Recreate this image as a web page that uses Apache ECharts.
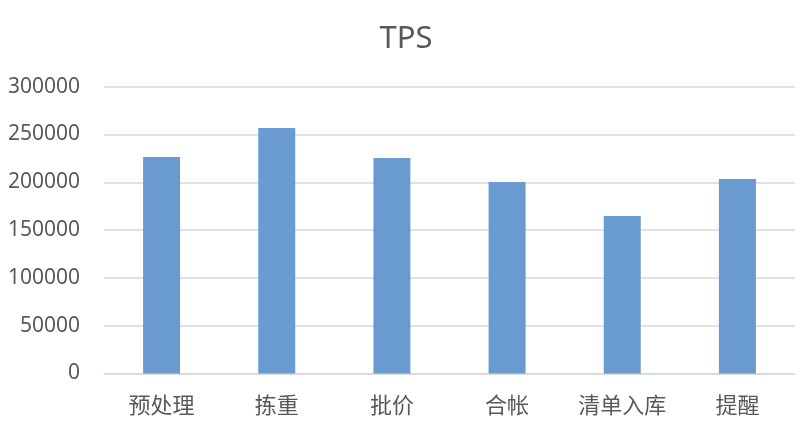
<!DOCTYPE html>
<html><head><meta charset="utf-8">
<script src="https://cdn.jsdelivr.net/npm/echarts@6/dist/echarts.min.js"></script>
<style>html,body{margin:0;padding:0;background:#fff}#c{width:812px;height:426px}</style>
</head><body><div id="c"></div>
<script>
const categories = ['预处理', '拣重', '批价', '合帐', '清单入库', '提醒'];
const tpsValues = [226500, 256800, 225400, 200300, 164800, 203400];
const yTicks = { min: 0, max: 300000, interval: 50000 };

const chart = echarts.init(document.getElementById('c'), null, { renderer: 'canvas' });
chart.setOption({
  animation: false,
  backgroundColor: '#ffffff',
  title: {
    text: 'TPS', left: 'center', top: 19,
    textStyle: { fontFamily: 'Noto Sans, Open Sans, sans-serif', fontSize: 31, fontWeight: 'normal', color: '#595959' }
  },
  grid: { left: 104, right: 17, top: 86.7, bottom: 52.5, containLabel: false },
  xAxis: {
    type: 'category', data: categories,
    axisLine: { show: true, lineStyle: { color: '#d9d9d9', width: 1.5 } },
    axisTick: { show: false },
    axisLabel: { color: '#595959', fontSize: 22, margin: 20, fontFamily: 'Noto Sans CJK SC, sans-serif' }
  },
  yAxis: {
    type: 'value', min: yTicks.min, max: yTicks.max, interval: yTicks.interval,
    axisLine: { show: false }, axisTick: { show: false },
    splitLine: { lineStyle: { color: '#d9d9d9', width: 1.5 } },
    axisLabel: { color: '#595959', fontSize: 21, margin: 24, formatter: v => String(v), fontFamily: 'Noto Sans, Open Sans, sans-serif' }
  },
  series: [{
    type: 'bar', data: tpsValues, barWidth: 37,
    itemStyle: { color: '#6a9bd0' }
  }]
});
</script></body></html>
